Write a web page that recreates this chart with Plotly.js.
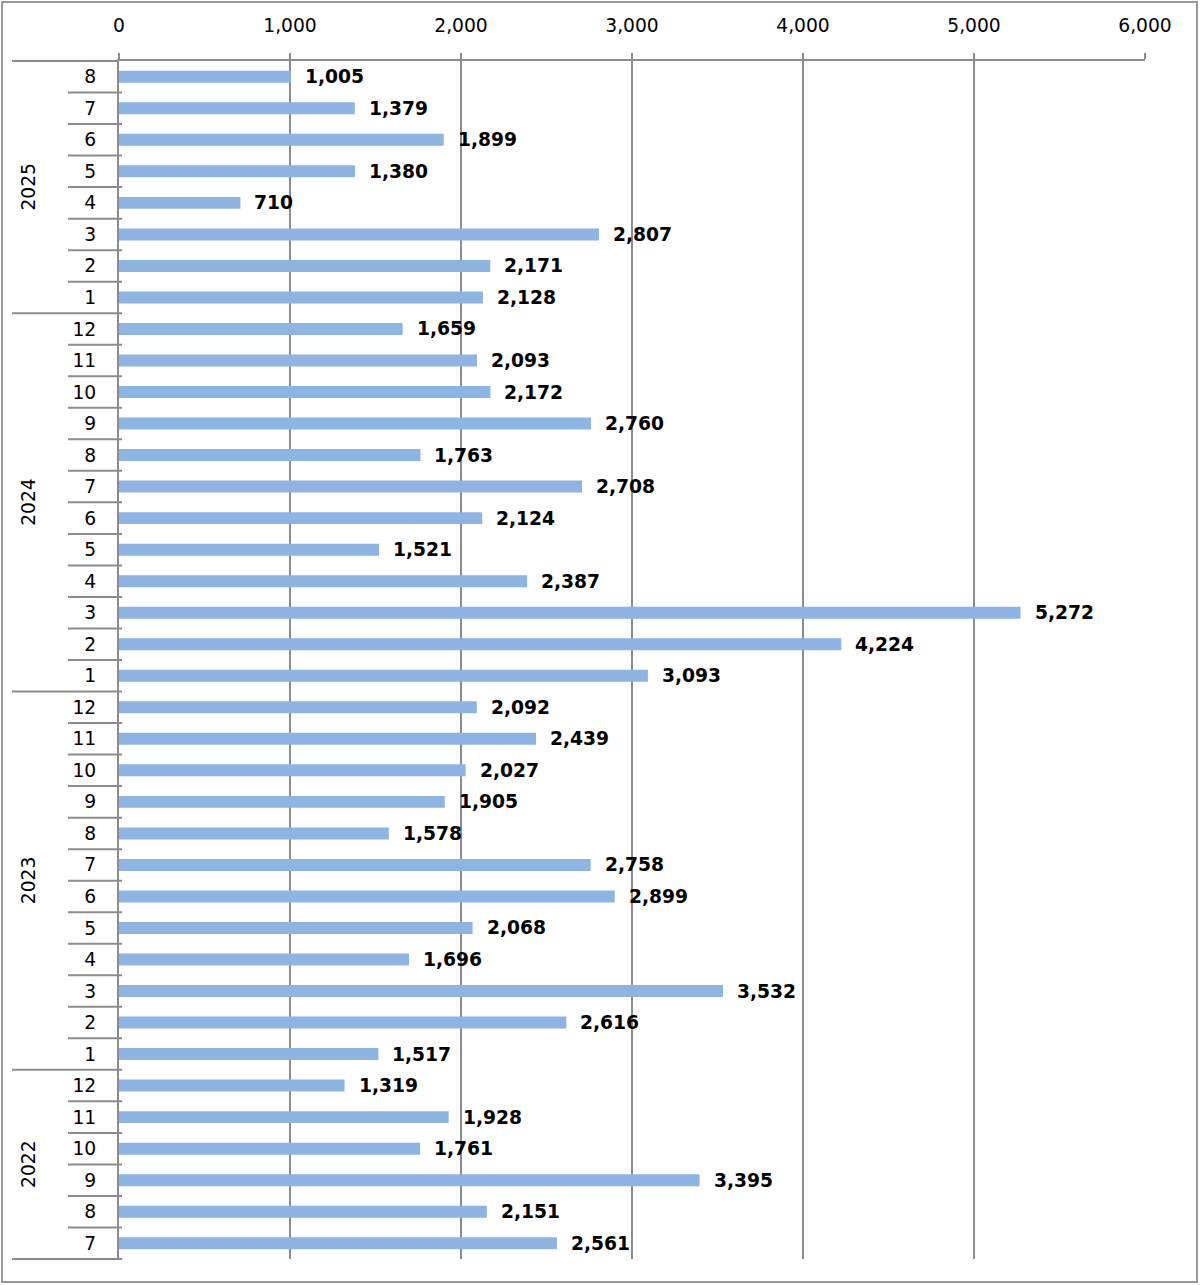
<!DOCTYPE html>
<html>
<head>
<meta charset="utf-8">
<script src="https://cdn.plot.ly/plotly-3.0.1.min.js"></script>
<style>
  html, body { margin: 0; padding: 0; background: #fff; }
  #wrap { position: relative; width: 1200px; height: 1285px; }
  #chart { width: 1200px; height: 1285px; }
  #frame { position: absolute; left: 1px; top: 1px; width: 1197px; height: 1282px;
           box-sizing: border-box; border: 2px solid #9a9a9a; pointer-events: none; }
</style>
</head>
<body>
<div id="wrap"><div id="chart"></div><div id="frame"></div></div>
<script>
// ---- Data (bottom to top) ----
const years = [2022, 2023, 2024, 2025];
const months2022 = [7, 8, 9, 10, 11, 12];
const values2022 = [2561, 2151, 3395, 1761, 1928, 1319];
const months2023 = [1, 2, 3, 4, 5, 6, 7, 8, 9, 10, 11, 12];
const values2023 = [1517, 2616, 3532, 1696, 2068, 2899, 2758, 1578, 1905, 2027, 2439, 2092];
const months2024 = [1, 2, 3, 4, 5, 6, 7, 8, 9, 10, 11, 12];
const values2024 = [3093, 4224, 5272, 2387, 1521, 2124, 2708, 1763, 2760, 2172, 2093, 1659];
const months2025 = [1, 2, 3, 4, 5, 6, 7, 8];
const values2025 = [2128, 2171, 2807, 710, 1380, 1899, 1379, 1005];
const xTickVals = [0, 1000, 2000, 3000, 4000, 5000, 6000];

const monthsList = [months2022, months2023, months2024, months2025];
const valuesList = [values2022, values2023, values2024, values2025];

// ---- Build categories ----
const cats = [], vals = [], tickText = [], yearOf = [];
years.forEach((yr, k) => {
  monthsList[k].forEach((m, j) => {
    cats.push(yr + '-' + m);
    vals.push(valuesList[k][j]);
    tickText.push(String(m));
    yearOf.push(yr);
  });
});

const GRAY = '#8c8c8c';
const FONT = 'DejaVu Sans, Verdana, sans-serif';
const plotW = 1200 - 119 - 55;
const monthX0 = -51 / plotW, yearX0 = -107 / plotW, sepX1 = 3 / plotW;

// Separators between categories
const shapes = [];
for (let i = 0; i < cats.length - 1; i++) {
  const isYear = yearOf[i] !== yearOf[i + 1];
  shapes.push({ type: 'line', xref: 'paper', yref: 'y',
    x0: isYear ? yearX0 : monthX0, x1: sepX1, y0: i + 0.5, y1: i + 0.5,
    line: { color: GRAY, width: 2 } });
}
// top and bottom boundary lines
shapes.push({ type: 'line', xref: 'paper', yref: 'paper', x0: yearX0, x1: 0, y0: 1, y1: 1,
  line: { color: GRAY, width: 2 } });
shapes.push({ type: 'line', xref: 'paper', yref: 'paper', x0: yearX0, x1: sepX1, y0: 0, y1: 0,
  line: { color: GRAY, width: 2 } });

// Annotations: data labels and year labels
const annotations = cats.map((c, i) => ({
  x: vals[i], y: c, xref: 'x', yref: 'y', text: vals[i].toLocaleString('en-US'),
  showarrow: false, xanchor: 'left', yanchor: 'middle', xshift: 12,
  font: { family: FONT, size: 18.7, color: '#000', weight: 'bold' }
}));
years.forEach(yr => {
  const idx = yearOf.map((y, i) => y === yr ? i : -1).filter(i => i >= 0);
  const mid = (idx[0] + idx[idx.length - 1]) / 2;
  annotations.push({ x: (28.5 - 119) / plotW, xref: 'paper', y: mid, yref: 'y',
    text: String(yr), showarrow: false, textangle: -90, xanchor: 'center', yanchor: 'middle',
    font: { family: FONT, size: 18.7, color: '#000' } });
});

const trace = {
  type: 'bar', orientation: 'h', x: vals, y: cats,
  marker: { color: '#8db4e2' }, hoverinfo: 'skip'
};

const layout = {
  width: 1200, height: 1285,
  margin: { l: 119, r: 55, t: 61, b: 26, pad: 0 },
  paper_bgcolor: '#fff', plot_bgcolor: '#fff',
  showlegend: false, bargap: 0.62,
  font: { family: FONT, size: 18.7, color: '#000' },
  xaxis: {
    side: 'top', range: [0, 6000], tickvals: xTickVals, tickformat: ',',
    showgrid: true, gridcolor: GRAY, gridwidth: 2, zeroline: false,
    showline: true, linecolor: GRAY, linewidth: 2,
    ticks: 'outside', ticklen: 6, tickwidth: 2, tickcolor: GRAY,
    ticklabelstandoff: 14,
    tickfont: { family: FONT, size: 18.7, color: '#000' }, fixedrange: true
  },
  yaxis: {
    type: 'category', categoryorder: 'array', categoryarray: cats,
    range: [-0.5, cats.length - 0.5],
    tickvals: cats, ticktext: tickText, ticks: '',
    showgrid: false, zeroline: false,
    showline: true, linecolor: GRAY, linewidth: 2,
    ticklabelstandoff: 17,
    tickfont: { family: FONT, size: 18.7, color: '#000' }, fixedrange: true
  },
  shapes: shapes, annotations: annotations
};

Plotly.newPlot('chart', [trace], layout, { displayModeBar: false, staticPlot: true });
</script>
</body>
</html>
